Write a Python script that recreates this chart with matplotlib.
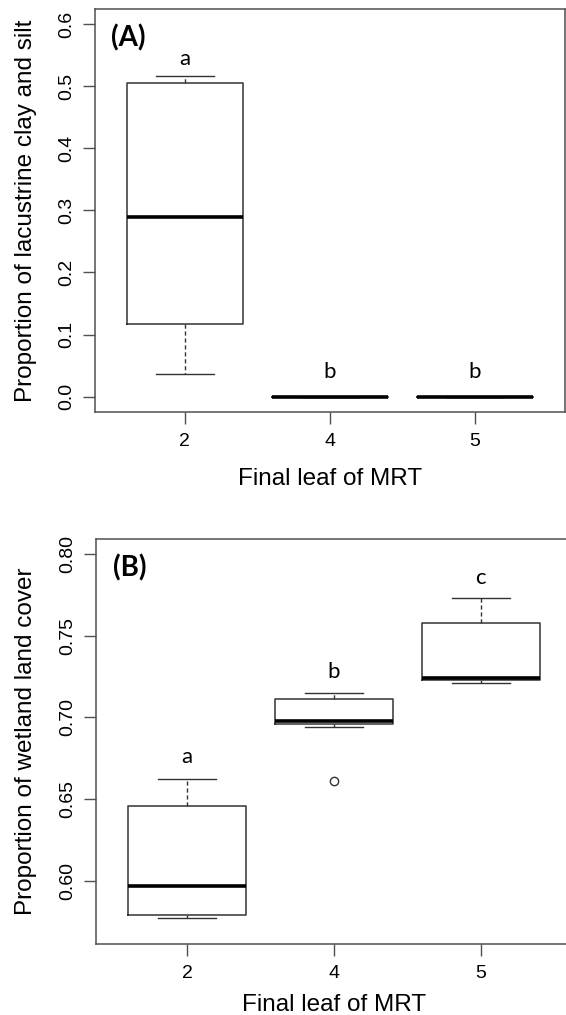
''' boxplots of MRT final leaves'''

import matplotlib
matplotlib.use('Agg')
import matplotlib.pyplot as plt

plt.rcParams['font.family'] = ['Liberation Sans', 'DejaVu Sans']

groups = ['2', '4', '5']

# (A) proportion of lacustrine clay and silt
clay_q1 = [0.117, 0.0, 0.0]
clay_med = [0.289, 0.0, 0.0]
clay_q3 = [0.505, 0.0, 0.0]
clay_lo = [0.037, 0.0, 0.0]
clay_hi = [0.516, 0.0, 0.0]
clay_fliers = [[], [], []]
clay_letters = ['a', 'b', 'b']
clay_letter_y = [0.543, 0.040, 0.040]

# (B) proportion of wetland land cover
wet_q1 = [0.579, 0.696, 0.723]
wet_med = [0.597, 0.698, 0.724]
wet_q3 = [0.646, 0.711, 0.758]
wet_lo = [0.577, 0.694, 0.721]
wet_hi = [0.662, 0.715, 0.773]
wet_fliers = [[], [0.661], []]
wet_letters = ['a', 'b', 'c']
wet_letter_y = [0.676, 0.728, 0.785]

BOX = '#333333'
SPINE = '#505050'


def make_stats(q1, med, q3, lo, hi, fliers):
    stats = []
    for i in range(len(groups)):
        stats.append(dict(q1=q1[i], med=med[i], q3=q3[i], whislo=lo[i],
                          whishi=hi[i], fliers=fliers[i], label=groups[i]))
    return stats


def draw_panel(ax, stats, letters, letter_y, yticks, ylabels, ylim,
               ylabel, tag, xlab_y):
    ax.bxp(stats, positions=[1, 2, 3], widths=0.8, capwidths=0.4,
           boxprops=dict(color=BOX, linewidth=1.1),
           medianprops=dict(color='black', linewidth=2.6),
           whiskerprops=dict(color=BOX, linewidth=1.0, linestyle=(0, (3, 2))),
           capprops=dict(color=BOX, linewidth=1.0),
           flierprops=dict(marker='o', markersize=6, markerfacecolor='none',
                           markeredgecolor=BOX, markeredgewidth=1.0))
    for i in range(len(letters)):
        ax.text(i + 1, letter_y[i], letters[i], ha='center', va='center',
                fontsize=16, family=['Lato', 'DejaVu Sans'])
    ax.text(0.071, 0.928, tag, transform=ax.transAxes, ha='center',
            va='center', fontsize=20, fontweight='bold',
            family=['Lato', 'DejaVu Sans'])
    ax.set_xlim(0.38, 3.62)
    ax.set_ylim(ylim)
    ax.set_xticks([1, 2, 3])
    ax.set_xticklabels(groups)
    ax.set_yticks(yticks)
    ax.set_yticklabels(ylabels, rotation=90, va='center')
    ax.tick_params(length=8.5, width=1.0, color=SPINE, labelsize=14, pad=6)
    ax.tick_params(axis='x', pad=7)
    for s in ax.spines.values():
        s.set_color(SPINE)
        s.set_linewidth(1.1)
    ax.set_ylabel(ylabel, fontsize=17.5, va='center')
    ax.yaxis.set_label_coords(-0.147, 0.5)
    ax.text(0.5, xlab_y, 'Final leaf of MRT', transform=ax.transAxes,
            ha='center', va='baseline', fontsize=17.5)


fig = plt.figure(figsize=(5.66, 10.15), dpi=100)
ax1 = fig.add_axes([0.1678, 0.5944, 0.9982 - 0.1678, 0.9911 - 0.5944])
ax2 = fig.add_axes([0.1696, 0.0700, 1.0106 - 0.1696, 0.4690 - 0.0700])

draw_panel(ax1, make_stats(clay_q1, clay_med, clay_q3, clay_lo, clay_hi, clay_fliers),
           clay_letters, clay_letter_y,
           [0.0, 0.1, 0.2, 0.3, 0.4, 0.5, 0.6],
           ['0.0', '0.1', '0.2', '0.3', '0.4', '0.5', '0.6'],
           (-0.024, 0.624), 'Proportion of lacustrine clay and silt', '(A)', -0.182)
draw_panel(ax2, make_stats(wet_q1, wet_med, wet_q3, wet_lo, wet_hi, wet_fliers),
           wet_letters, wet_letter_y,
           [0.60, 0.65, 0.70, 0.75, 0.80],
           ['0.60', '0.65', '0.70', '0.75', '0.80'],
           (0.5613, 0.8092), 'Proportion of wetland land cover', '(B)', -0.165)

fig.savefig('out.png', dpi=100)
